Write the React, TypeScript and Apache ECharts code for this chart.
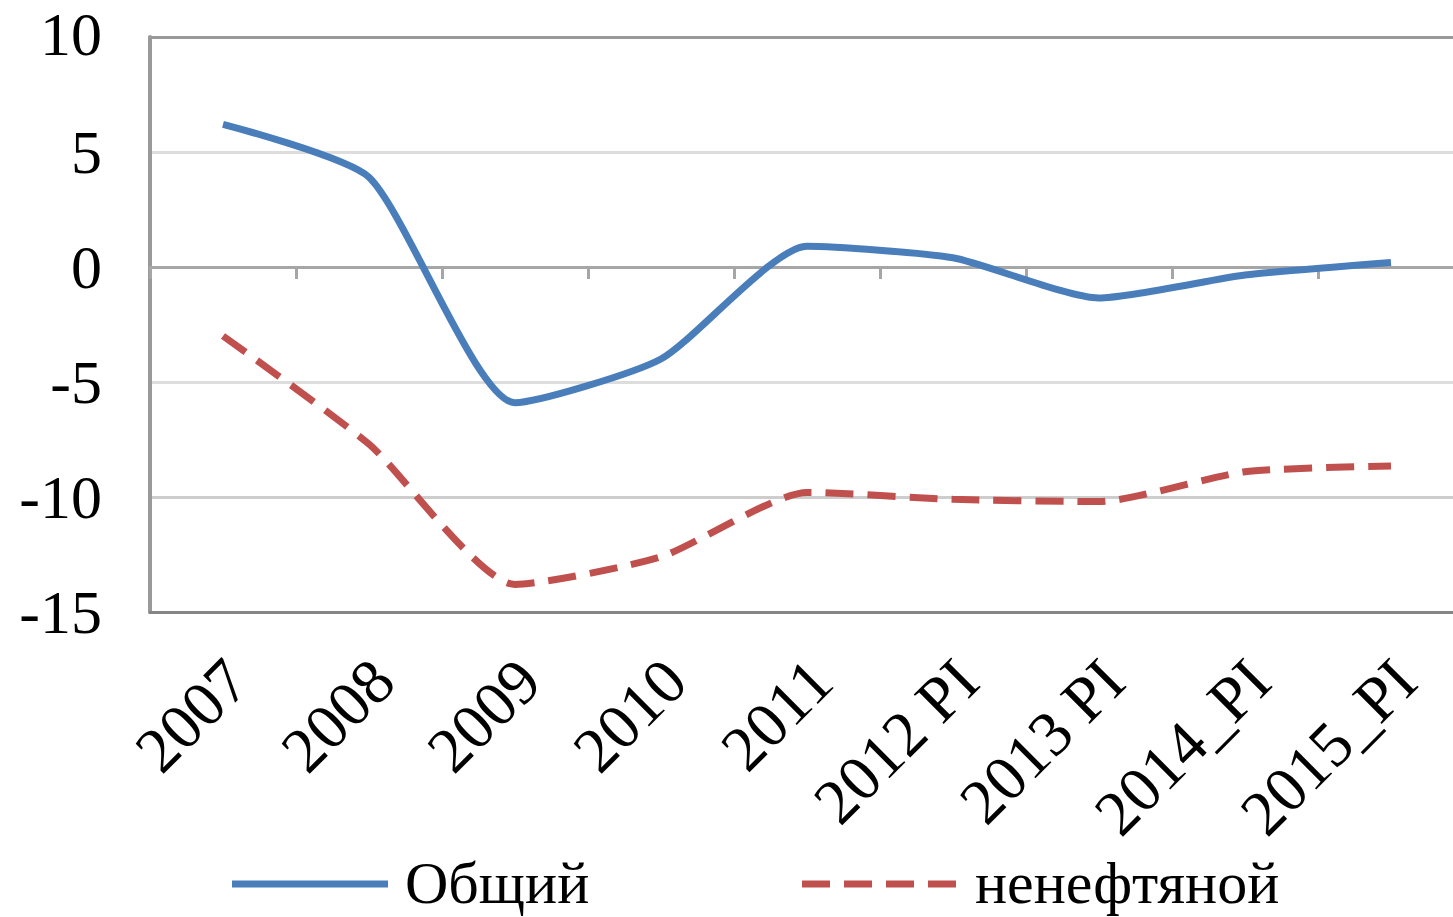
import React, { useEffect, useRef } from "react";
import * as echarts from "echarts";

const categories = ["2007", "2008", "2009", "2010", "2011", "2012 PI", "2013 PI", "2014_PI", "2015_PI"];
const totalValues = [6.2, 3.9, -5.9, -4.0, 0.9, 0.4, -1.35, -0.35, 0.2];
const nonOilValues = [-3.0, -7.7, -13.8, -12.6, -9.8, -10.1, -10.2, -8.9, -8.65];
const seriesNames = ["Общий", "ненефтяной"];
const seriesColors = ["#4A7EBB", "#C0504D"];
const yMin = -15;
const yMax = 10;
const yStep = 5;

const FONT = "'Liberation Serif', 'Times New Roman', serif";

export default function App() {
  const ref = useRef<HTMLDivElement>(null);
  useEffect(() => {
    if (!ref.current) return;
    const chart = echarts.init(ref.current, null, { renderer: "svg" });
    chart.setOption({
      animation: false,
      backgroundColor: "#ffffff",
      grid: {
        left: 150,
        top: 37,
        bottom: 305,
        right: -11,
        containLabel: false,
        outerBoundsMode: "none",
      },
      graphic: [
        {
          type: "line",
          shape: { x1: 232, y1: 884, x2: 388, y2: 884 },
          style: { stroke: seriesColors[0], lineWidth: 7 },
        },
        {
          type: "text",
          x: 405,
          y: 883,
          style: {
            text: seriesNames[0],
            fontFamily: FONT,
            fontSize: 60,
            fill: "#000",
            verticalAlign: "middle",
            align: "left",
          },
        },
        {
          type: "line",
          shape: { x1: 802, y1: 884, x2: 962, y2: 884 },
          style: { stroke: seriesColors[1], lineWidth: 7, lineDash: [28, 14] },
        },
        {
          type: "text",
          x: 975,
          y: 883,
          style: {
            text: seriesNames[1],
            fontFamily: FONT,
            fontSize: 60,
            fill: "#000",
            verticalAlign: "middle",
            align: "left",
          },
        },
      ],
      xAxis: [
        {
          type: "category",
          data: categories,
          boundaryGap: true,
          position: "bottom",
          axisLine: { onZero: false, lineStyle: { color: "#858585", width: 3 } },
          axisTick: { show: false },
          axisLabel: {
            rotate: 45,
            margin: 44,
            fontFamily: FONT,
            fontSize: 64,
            lineHeight: 40,
            verticalAlign: "top",
            color: "#000",
            interval: 0,
          },
          splitLine: { show: false },
        },
        {
          type: "category",
          data: categories,
          boundaryGap: true,
          position: "bottom",
          axisLine: { onZero: true, lineStyle: { color: "#A6A6A6", width: 3 } },
          axisTick: { show: true, inside: false, length: 12, lineStyle: { color: "#A6A6A6", width: 3 } },
          axisLabel: { show: false },
          splitLine: { show: false },
        },
      ],
      yAxis: {
        type: "value",
        min: yMin,
        max: yMax,
        interval: yStep,
        axisLine: { show: true, lineStyle: { color: "#999999", width: 4 } },
        axisTick: { show: false },
        axisLabel: {
          fontFamily: FONT,
          fontSize: 62,
          color: "#000",
          margin: 48,
          formatter: (v: number) => (v === yMax ? "{top|" + v + "}" : String(v)),
          rich: {
            top: { fontFamily: FONT, fontSize: 62, lineHeight: 50, color: "#000", padding: [0, 0, 6, 0] },
          },
        },
        splitLine: {
          show: true,
          lineStyle: {
            width: 3,
            color: ["#888888", "#CDCDCD", "#DDDDDD", "#A6A6A6", "#DDDDDD", "#999999"],
          },
        },
      },
      series: [
        {
          name: seriesNames[0],
          type: "line",
          data: totalValues,
          smooth: 0.2,
          symbol: "none",
          lineStyle: { color: seriesColors[0], width: 7 },
          itemStyle: { color: seriesColors[0] },
        },
        {
          name: seriesNames[1],
          type: "line",
          data: nonOilValues,
          smooth: 0.2,
          symbol: "none",
          lineStyle: { color: seriesColors[1], width: 7, type: [28, 14] },
          itemStyle: { color: seriesColors[1] },
        },
      ],
    });
    return () => chart.dispose();
  }, []);
  return (
    <div
      ref={ref}
      style={{ position: "fixed", left: 0, top: 0, width: 1453, height: 917, background: "#fff" }}
    />
  );
}
